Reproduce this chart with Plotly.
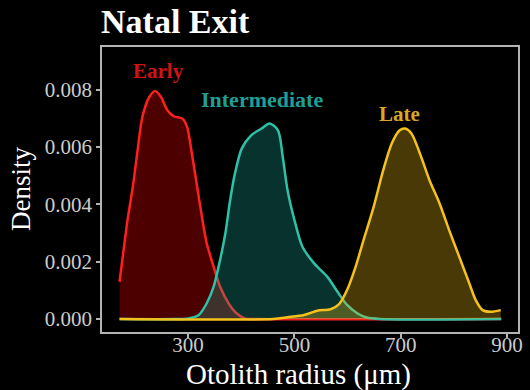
import plotly.graph_objects as go

# ---- data ----
early_x = [171, 177, 186, 196, 205, 214, 227, 238, 249, 261, 273, 289, 298, 307, 317, 326, 335, 348, 360, 376, 391, 407, 430, 889]
early_y = [0.00130, 0.00217, 0.00345, 0.00461, 0.00589, 0.00705, 0.00774, 0.00795, 0.00774, 0.00728, 0.00707, 0.00699,
           0.00670, 0.00577, 0.00461, 0.00356, 0.00264, 0.00182, 0.00113, 0.00055, 0.00020, 0.00002, 0.0, 0.0]

inter_x = [171, 280, 301, 320, 335, 348, 360, 370, 379, 388, 401, 419, 438, 453, 469, 478, 487, 500, 515, 537, 562,
           581, 599, 618, 636, 660, 889]
inter_y = [0.0, 0.0, 0.00002, 0.00014, 0.00055, 0.00113, 0.00205, 0.00298, 0.00414, 0.00507, 0.00595, 0.00641, 0.00664,
           0.00682, 0.00658, 0.00565, 0.00449, 0.00345, 0.00252, 0.00194, 0.00147, 0.00095, 0.00049, 0.00020, 0.00005,
           0.0, 0.0]

late_x = [171, 460, 487, 518, 543, 568, 584, 599, 615, 630, 649, 667, 683, 698, 708, 720, 736, 754, 773, 791, 810, 829,
          841, 854, 869, 888]
late_y = [0.0, 0.0, 0.00006, 0.00014, 0.00029, 0.00034, 0.00052, 0.00101, 0.00182, 0.00275, 0.00391, 0.00519, 0.00612,
          0.00658, 0.00664, 0.00647, 0.00577, 0.00484, 0.00403, 0.00310, 0.00217, 0.00124, 0.00066, 0.00031, 0.00025,
          0.00031]

groups = ["Early", "Intermediate", "Late"]
label_x = [244, 439, 697]
label_y = [0.00865, 0.00765, 0.00716]

x_ticks = [300, 500, 700, 900]
y_ticks = [0.000, 0.002, 0.004, 0.006, 0.008]

line_colors = ["#ff1f1f", "#2fc0a8", "#f5c21c"]
fill_colors = ["rgba(255,0,0,0.30)", "rgba(30,180,160,0.28)", "rgba(240,190,20,0.30)"]
label_colors = ["#d01414", "#1d9f96", "#d8a823"]

SERIF = "Liberation Serif, Times New Roman, serif"

fig = go.Figure()
for xs, ys, lc, fc in zip([early_x, inter_x, late_x], [early_y, inter_y, late_y], line_colors, fill_colors):
    fig.add_trace(go.Scatter(
        x=xs, y=ys, mode="lines", fill="tozeroy", fillcolor=fc,
        line=dict(color=lc, width=2.5, shape="spline", smoothing=0.8),
        showlegend=False, hoverinfo="skip"))

label_sizes = [21, 22, 21]
for g, lx, ly, c, s in zip(groups, label_x, label_y, label_colors, label_sizes):
    fig.add_annotation(x=lx, y=ly, xref="x", yref="y", text="<b>%s</b>" % g, showarrow=False,
                       font=dict(family=SERIF, size=s, color=c), xanchor="center", yanchor="middle")

axis_style = dict(showline=True, mirror=True, linecolor="#b4b4b4", linewidth=1.5, showgrid=False, zeroline=False,
                  ticks="outside", ticklen=4, tickcolor="#b4b4b4", tickwidth=1.5,
                  tickfont=dict(family=SERIF, size=21, color="#cccccc"))

fig.update_layout(
    width=530, height=390,
    margin=dict(l=102, r=7, t=47, b=58),
    paper_bgcolor="black", plot_bgcolor="black",
    xaxis=dict(range=[138, 920.5], tickvals=x_ticks, ticktext=[str(v) for v in x_ticks],
               ticklabelstandoff=-11, **axis_style),
    yaxis=dict(range=[-0.000453, 0.009484], tickvals=y_ticks, ticktext=["%.3f" % v for v in y_ticks], **axis_style),
    showlegend=False,
)

# titles placed as annotations at pixel positions converted to paper coordinates
W, H = 530.0, 390.0
pw, ph = W - 102 - 7, H - 47 - 58


def px(xp):
    return (xp - 102) / pw


def py(yp):
    return (H - 58 - yp) / ph


fig.add_annotation(x=px(99), y=py(22), xref="paper", yref="paper", text="<b>Natal Exit</b>", showarrow=False,
                   xanchor="left", yanchor="middle", font=dict(family=SERIF, size=34, color="white"))
fig.add_annotation(x=px(301), y=py(374), xref="paper", yref="paper", text="Otolith radius (μm)", showarrow=False,
                   xanchor="center", yanchor="middle", font=dict(family=SERIF, size=29, color="white"))
fig.add_annotation(x=px(20), y=py(189), xref="paper", yref="paper", text="Density", showarrow=False, textangle=-90,
                   xanchor="center", yanchor="middle", font=dict(family=SERIF, size=27, color="white"))

fig.write_html("out.html")
